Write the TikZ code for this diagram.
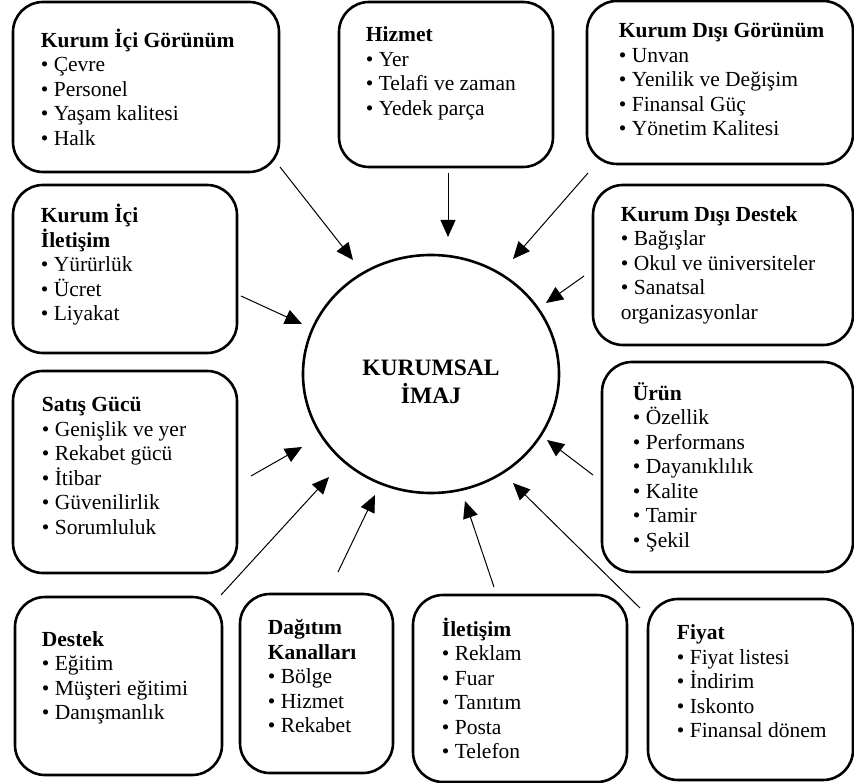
\documentclass[tikz,border=0pt]{standalone}
\usepackage{fontspec}
\setmainfont{Liberation Serif}
\usetikzlibrary{arrows.meta,shapes.geometric}

\begin{document}
\begin{tikzpicture}[x=1pt,y=-1pt,
    kutu/.style={draw, line width=2.6pt, rounded corners=30pt, inner sep=0pt},
    yazi/.style={anchor=west, align=left, inner sep=0pt, font=\fontsize{21.5}{24.5}\selectfont},
    ok/.style={line width=1pt, -{Triangle[length=17pt,width=15pt]}}]
  \useasboundingbox (0,0) rectangle (854,783);

  % merkez
  \node[draw, ellipse, line width=2.6pt, inner sep=0pt, minimum width=256pt, minimum height=238pt] (imaj) at (431,374) {};
  \node[align=center, inner sep=0pt, font=\bfseries\fontsize{23.5}{28}\selectfont] (imaj-y) at ([yshift=-8pt]imaj.center) {KURUMSAL\\İMAJ};

  % kutular
  \node[kutu, minimum width=266pt, minimum height=170pt] (kig) at (146,87) {};
  \node[kutu, minimum width=214pt, minimum height=165pt] (hiz) at (446,84.5) {};
  \node[kutu, minimum width=266pt, minimum height=163pt] (kdg) at (720,82.5) {};
  \node[kutu, minimum width=224pt, minimum height=168pt] (kii) at (125,269) {};
  \node[kutu, minimum width=260pt, minimum height=160pt] (kdd) at (723,265) {};
  \node[kutu, minimum width=224pt, minimum height=202pt] (sat) at (125,472) {};
  \node[kutu, minimum width=251pt, minimum height=210pt] (urn) at (727.5,467) {};
  \node[kutu, minimum width=207pt, minimum height=178pt] (dst) at (118.5,686) {};
  \node[kutu, minimum width=153pt, minimum height=179pt] (dag) at (316.5,683.5) {};
  \node[kutu, minimum width=214pt, minimum height=187pt] (ilt) at (520,688.5) {};
  \node[kutu, minimum width=205pt, minimum height=181pt] (fyt) at (750.5,689.5) {};

  % yazilar
  \node[yazi] (kig-y) at ([xshift=29pt]kig.west) {\textbf{Kurum İçi Görünüm}\\• Çevre\\• Personel\\• Yaşam kalitesi\\• Halk};
  \node[yazi] (hiz-y) at ([xshift=28pt,yshift=11pt]hiz.west) {\textbf{Hizmet}\\• Yer\\• Telafi ve zaman\\• Yedek parça};
  \node[yazi] (kdg-y) at ([xshift=33pt,yshift=3pt]kdg.west) {\textbf{Kurum Dışı Görünüm}\\• Unvan\\• Yenilik ve Değişim\\• Finansal Güç\\• Yönetim Kalitesi};
  \node[yazi] (kii-y) at ([xshift=29pt,yshift=4pt]kii.west) {\textbf{Kurum İçi}\\\textbf{İletişim}\\• Yürürlük\\• Ücret\\• Liyakat};
  \node[yazi] (kdd-y) at ([xshift=29pt]kdd.west) {\textbf{Kurum Dışı Destek}\\• Bağışlar\\• Okul ve üniversiteler\\• Sanatsal\\organizasyonlar};
  \node[yazi] (sat-y) at ([xshift=30pt,yshift=6pt]sat.west) {\textbf{Satış Gücü}\\• Genişlik ve yer\\• Rekabet gücü\\• İtibar\\• Güvenilirlik\\• Sorumluluk};
  \node[yazi] (urn-y) at ([xshift=32pt]urn.west) {\textbf{Ürün}\\• Özellik\\• Performans\\• Dayanıklılık\\• Kalite\\• Tamir\\• Şekil};
  \node[yazi] (dst-y) at ([xshift=28pt,yshift=8pt]dst.west) {\textbf{Destek}\\• Eğitim\\• Müşteri eğitimi\\• Danışmanlık};
  \node[yazi] (dag-y) at ([xshift=29pt,yshift=7pt]dag.west) {\textbf{Dağıtım}\\\textbf{Kanalları}\\• Bölge\\• Hizmet\\• Rekabet};
  \node[yazi] (ilt-y) at ([xshift=30pt]ilt.west) {\textbf{İletişim}\\• Reklam\\• Fuar\\• Tanıtım\\• Posta\\• Telefon};
  \node[yazi] (fyt-y) at ([xshift=30pt,yshift=8pt]fyt.west) {\textbf{Fiyat}\\• Fiyat listesi\\• İndirim\\• Iskonto\\• Finansal dönem};

  % oklar
  \foreach \n/\ax/\ay/\bx/\by in {kig/280/167/353/260, hiz/448/173/448/237, kdg/588/173/513/259,
      kdd/584/276/546/303, kii/241/296/302/324, sat/251/476/302/447, dst/221/595/329/477,
      dag/338/572/375/495, ilt/494/587/465/501, fyt/640/608/513/483, urn/593/475/547/440}{
    \coordinate (\n-a) at (\ax,\ay);
    \coordinate (\n-b) at (\bx,\by);
    \draw[ok] (\n-a) -- (\n-b);
  }
\end{tikzpicture}
\end{document}
